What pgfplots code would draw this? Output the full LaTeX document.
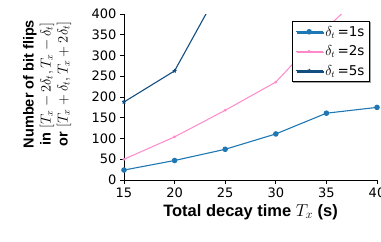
\documentclass[border=0pt]{standalone}
\usepackage{pgfplots}
\pgfplotsset{compat=1.18}
\usepackage{fontspec}
\setmainfont{DejaVu Sans}
\newfontfamily\lab{Liberation Sans}
\usetikzlibrary{shadows}
\definecolor{c1}{RGB}{31,119,180}
\definecolor{c2}{RGB}{255,136,204}
\definecolor{c5}{RGB}{18,78,128}
\begin{document}
\begin{tikzpicture}
\begin{axis}[
  scale only axis, width=253pt, height=166pt,
  xmin=15, xmax=40, ymin=0, ymax=400,
  xtick={15,20,...,40}, ytick={0,50,...,400},
  axis x line*=bottom, axis y line*=left,
  tick align=outside, major tick length=4pt,
  tick style={black, line width=0.8pt},
  axis line style={line width=0.8pt},
  tick label style={font=\fontsize{13}{15}\selectfont},
  /pgf/number format/assume math mode=true,
  xlabel={\lab\bfseries Total decay time $T_x$ (s)},
  xlabel style={font=\fontsize{16.5}{19}\selectfont},
  ylabel={{\lab\bfseries Number of bit flips}\\{\lab\bfseries in} $[T_x-2\delta_t, T_x-\delta_t]$\\{\lab\bfseries or} $[T_x+\delta_t, T_x+2\delta_t]$},
  ylabel style={font=\fontsize{14.5}{17}\selectfont, align=center, at={(axis description cs:-0.304,0.578)}, anchor=center},
  legend style={at={(axis description cs:0.972,0.96)}, anchor=north east,
    draw=black, line width=0.8pt, fill=white,
    font=\fontsize{13.5}{15}\selectfont,
    drop shadow={shadow xshift=1.2pt, shadow yshift=-1.2pt, fill=gray!70, opacity=1},
    row sep=4pt, inner xsep=3pt, inner ysep=3pt},
  legend cell align=left,
  legend image code/.code={\draw[mark repeat=2,mark phase=2] plot coordinates {(0pt,0pt) (13.5pt,0pt) (27pt,0pt)};},
]
\addplot[c1, line width=1.1pt, mark=*, mark size=2.2pt] coordinates {
  (15,24) (20,47) (25,74) (30,111) (35,161) (40,175)};
\addlegendentry{$\delta_t$\,=1s}
\addplot[c2, line width=1pt, mark=*, mark size=0.8pt] coordinates {
  (15,50) (20,104) (25,168) (30,236) (35,366) (40,480)};
\addlegendentry{$\delta_t$\,=2s}
\addplot[c5, line width=1.1pt, mark=star, mark size=2pt] coordinates {
  (15,188) (20,263) (25,484) (30,700)};
\addlegendentry{$\delta_t$\,=5s}
\end{axis}
\pgfresetboundingbox
\useasboundingbox ([xshift=-124pt,yshift=-61pt]current axis.south west) rectangle ([xshift=4pt,yshift=14pt]current axis.north east);
\end{tikzpicture}
\end{document}
